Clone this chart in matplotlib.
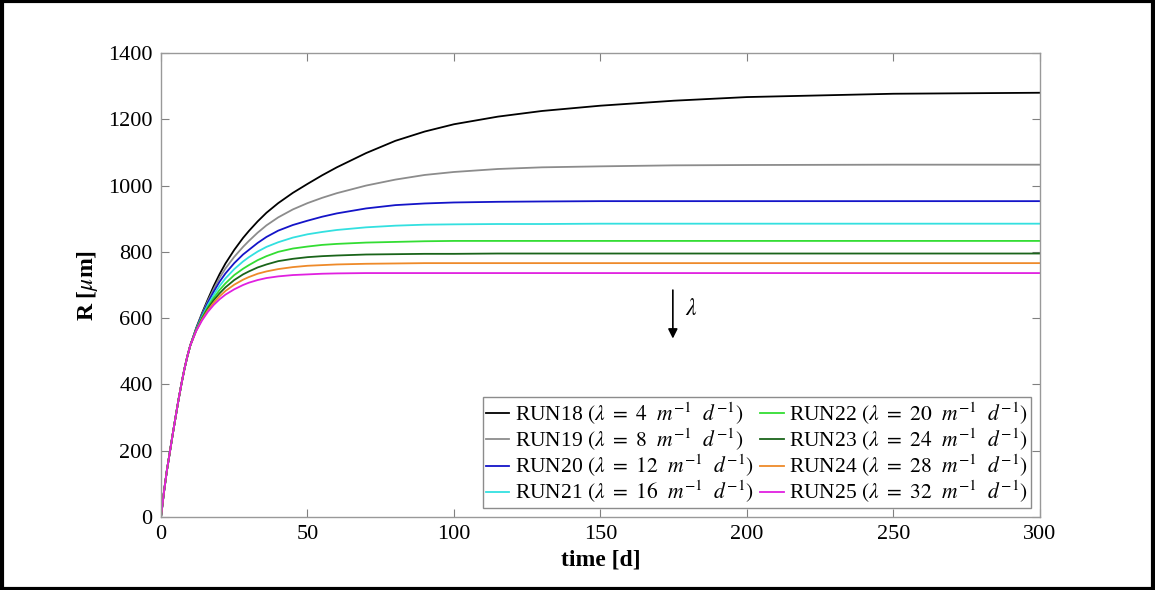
import matplotlib
matplotlib.use("Agg")
import matplotlib.pyplot as plt
from matplotlib.patches import Rectangle

plt.rcParams['font.family'] = ['Liberation Serif', 'DejaVu Serif']
plt.rcParams['mathtext.fontset'] = 'stix'

# time [d]
t = [0, 1, 2, 3, 4, 5, 6, 7, 8, 9, 10, 12, 14, 16, 18, 20, 22, 25, 28, 30, 33, 36, 40, 45,
     50, 55, 60, 70, 80, 90, 100, 115, 130, 150, 175, 200, 250, 300]

# R [um] (all runs share the first 10 days)
early = [0, 75, 140, 195, 250, 303, 355, 403, 447, 485, 518]
run18 = early + [570, 615, 657, 697, 733, 765, 806, 842, 863, 892, 918, 947, 978,
                 1005, 1031, 1055, 1098, 1135, 1163, 1185, 1208, 1225, 1241, 1256, 1267, 1277, 1280]
run19 = early + [568, 612, 652, 688, 722, 750, 785, 815, 833, 858, 880, 904, 928,
                 947, 963, 977, 1000, 1018, 1032, 1041, 1050, 1055, 1058, 1061, 1062, 1063, 1063]
run20 = early + [567, 609, 647, 680, 710, 735, 766, 792, 806, 827, 845, 864, 881,
                 894, 906, 916, 931, 941, 946, 949, 951, 952, 953, 953, 953, 953, 953]
run21 = early + [565, 605, 640, 670, 697, 720, 748, 771, 784, 801, 815, 829, 843,
                 853, 860, 866, 874, 879, 882, 883, 884, 884, 885, 885, 885, 885, 885]
run22 = early + [564, 602, 634, 661, 685, 705, 730, 749, 760, 775, 787, 800, 810,
                 816, 821, 824, 828, 830, 832, 833, 833, 833, 833, 833, 833, 833, 833]
run23 = early + [563, 599, 629, 654, 675, 693, 715, 732, 741, 753, 762, 772, 779,
                 784, 787, 789, 792, 793, 794, 794, 795, 795, 795, 795, 795, 795, 795]
run24 = early + [562, 596, 624, 647, 666, 682, 701, 716, 724, 734, 741, 748, 754,
                 758, 760, 762, 764, 765, 766, 766, 766, 766, 766, 766, 766, 766, 766]
run25 = early + [561, 593, 619, 640, 657, 671, 687, 700, 707, 715, 721, 726, 730,
                 732, 734, 735, 736, 736, 736, 736, 736, 736, 736, 736, 736, 736, 736]

runs = ['RUN18', 'RUN19', 'RUN20', 'RUN21', 'RUN22', 'RUN23', 'RUN24', 'RUN25']
lambdas = [4, 8, 12, 16, 20, 24, 28, 32]
colors = ['#000000', '#8c8c8c', '#1414c8', '#33e0e0', '#33dd33', '#1a641a', '#ee8a2a', '#e020e0']
series = [run18, run19, run20, run21, run22, run23, run24, run25]

fig = plt.figure(figsize=(11.55, 5.90), dpi=100)
ax = fig.add_axes([0.1394, 0.1237, 0.7610, 0.7865])

for name, lam, c, r in zip(runs, lambdas, colors, series):
    ax.plot(t, r, color=c, linewidth=1.3,
            label=name + r' $(\lambda\ =\ ' + str(lam) + r'\ \ m^{-1}\ \ d^{-1})$')

ax.set_xlim(0, 300)
ax.set_ylim(0, 1400)
ax.set_xticks(range(0, 301, 50))
ax.set_yticks(range(0, 1401, 200))
ax.tick_params(direction='in', top=True, right=True, labelsize=16, length=6,
               color='#808080', pad=6)
for s in ax.spines.values():
    s.set_color('#999999')
    s.set_linewidth(1.0)

ax.set_xlabel('time [d]', fontsize=17, fontweight='bold', labelpad=4)
ax.set_ylabel(r'R [$\mu$m]', fontsize=17, fontweight='bold', labelpad=6)

# arrow showing increasing lambda
ax.annotate('', xy=(174.7, 530), xytext=(174.7, 693),
            arrowprops=dict(arrowstyle='-|>', color='black', lw=1.2, mutation_scale=14))
ax.text(179, 625, r'$\lambda$', fontsize=17, ha='left', va='center')

leg = ax.legend(loc='lower right', ncol=2, fontsize=15.5, frameon=True, fancybox=False,
                handlelength=1.1, handletextpad=0.25, columnspacing=0.3,
                labelspacing=0.0, borderpad=0.15, borderaxespad=0.4)
leg.get_frame().set_edgecolor('#707070')
leg.get_frame().set_linewidth(1.0)

# black frame round the whole figure
fig.patches.append(Rectangle((0.0015, 0.0025), 0.997, 0.995, transform=fig.transFigure,
                             fill=False, edgecolor='black', linewidth=3))

fig.savefig('out.png', dpi=100)
